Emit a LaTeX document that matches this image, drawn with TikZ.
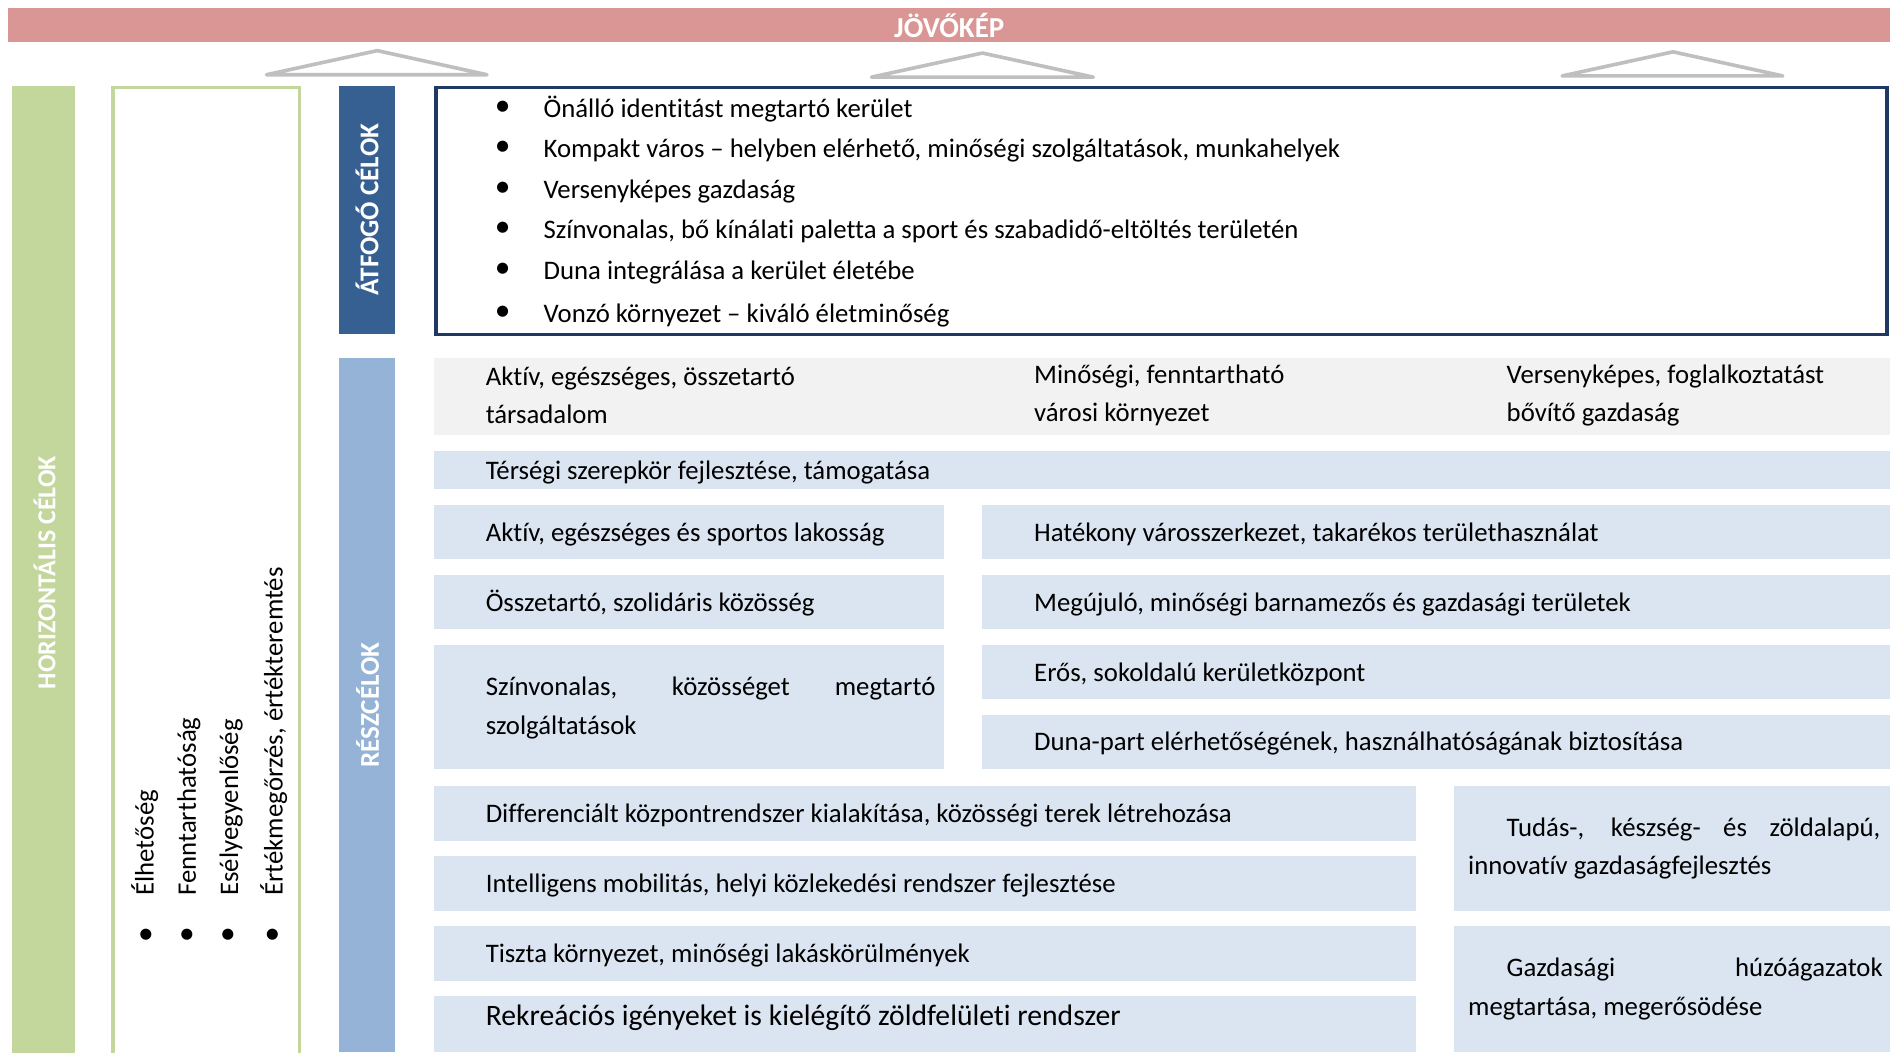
\documentclass[tikz,border=0pt]{standalone}
\usepackage{fontspec}
\setmainfont{Carlito}[Ligatures=NoCommon]
\definecolor{jred}{HTML}{D99694}
\definecolor{hgreen}{HTML}{C3D69B}
\definecolor{dblue}{HTML}{376092}
\definecolor{mblue}{HTML}{95B3D7}
\definecolor{lblue}{HTML}{DBE5F1}
\definecolor{lgray}{HTML}{F2F2F2}
\definecolor{tgray}{HTML}{BFBFBF}
\definecolor{navyb}{HTML}{1F3864}
\begin{document}
\begin{tikzpicture}[x=1pt,y=-1pt,
  bx/.style={fill=lblue, draw=none, anchor=north west, inner sep=0, outer sep=0},
  bar/.style={draw=none, anchor=north west, inner sep=0, outer sep=0},
  tx/.style={anchor=west, inner sep=0, outer sep=0, font=\fontsize{22.2}{32}\selectfont, text height=19.5pt, text depth=4.5pt},
  tx2/.style={anchor=west, inner sep=0, outer sep=0, font=\fontsize{22.2}{32}\selectfont, align=left},
  bul/.style={inner sep=0, outer sep=0, font=\fontsize{26}{26}\selectfont},
  hdr/.style={text=white, font=\fontsize{22.5}{22.5}\selectfont\bfseries, inner sep=0},
  tri/.style={draw=tgray, fill=white, line width=3pt, line join=round, line cap=round}
]
\useasboundingbox (0,0) rectangle (1568,873);

% top bar
\node[bar, fill=jred, minimum width=1561pt, minimum height=28pt] (jov) at (7,7) {};
\node[hdr, font=\fontsize{24}{24}\selectfont\bfseries] (jovt) at (jov.center) {JÖVŐKÉP};

% triangles
\draw[tri] (221,62) -- (313,42) -- (404,62) -- cycle;
\draw[tri] (723,64) -- (815,44) -- (907,64) -- cycle;
\draw[tri] (1296,63) -- (1388,43) -- (1479,63) -- cycle;

% horizontal goals bar
\node[bar, fill=hgreen, minimum width=52pt, minimum height=810pt] (hor) at (10,71) {};
\node[text=white, font=\fontsize{21.5}{21.5}\selectfont\bfseries, inner sep=0, rotate=90] (hort) at (37,475) {HORIZONTÁLIS CÉLOK};

% green outline box
\node[bar, draw=hgreen, line width=3pt, minimum width=155pt, minimum height=820pt] (hbox) at (93.5,72.5) {};
\node[bul] (hb1) at (121,777) {•};
\node[bul] (hb2) at (155,777) {•};
\node[bul] (hb3) at (189,777) {•};
\node[bul] (hb4) at (226,777) {•};
\node[tx, rotate=90] (ht1) at (120,743) {Élhetőség};
\node[tx, rotate=90] (ht2) at (155,743) {Fenntarthatóság};
\node[tx, rotate=90] (ht3) at (190,743) {Esélyegyenlőség};
\node[tx, rotate=90] (ht4) at (227,743) {Értékmegőrzés, értékteremtés};

% ÁTFOGÓ CÉLOK
\node[bar, fill=dblue, minimum width=47pt, minimum height=206pt] (atf) at (281,71) {};
\node[hdr, rotate=90] (atft) at (atf.center) {ÁTFOGÓ CÉLOK};

\node[bar, draw=navyb, line width=3pt, minimum width=1204pt, minimum height=205pt] (list) at (361.5,72.5) {};
\foreach \yy/\nm/\t in {90/l1/{Önálló identitást megtartó kerület},
  123/l2/{Kompakt város – helyben elérhető, minőségi szolgáltatások, munkahelyek},
  157/l3/{Versenyképes gazdaság},
  190/l4/{Színvonalas, bő kínálati paletta a sport és szabadidő-eltöltés területén},
  224/l5/{Duna integrálása a kerület életébe},
  260/l6/{Vonzó környezet – kiváló életminőség}}{
  \node[bul] (\nm b) at (417,\yy) {•};
  \node[tx] (\nm) at (451,\yy) {\t};
}

% RÉSZCÉLOK
\node[bar, fill=mblue, minimum width=47pt, minimum height=576pt] (resz) at (281,297) {};
\node[hdr, rotate=90] (reszt) at (305,585) {RÉSZCÉLOK};

% gray row
\node[bar, fill=lgray, minimum width=1208pt, minimum height=64pt] (gray) at (360,297) {};
\node[tx2] (g1) at (403,328) {Aktív, egészséges, összetartó\\társadalom};
\node[tx2] (g2) at (858,328) {Minőségi, fenntartható\\városi környezet};
\node[tx2] (g3) at (1250,328) {Versenyképes, foglalkoztatást\\bővítő gazdaság};

% boxes
\node[bx, minimum width=1208pt, minimum height=32pt] (bter) at (360,374) {};
\node[tx] (tter) at ([xshift=43pt]bter.west) {Térségi szerepkör fejlesztése, támogatása};

\node[bx, minimum width=423pt, minimum height=45pt] (bakt) at (360,419) {};
\node[tx] (takt) at ([xshift=43pt]bakt.west) {Aktív, egészséges és sportos lakosság};
\node[bx, minimum width=753pt, minimum height=45pt] (bhat) at (815,419) {};
\node[tx] (that) at ([xshift=43pt]bhat.west) {Hatékony városszerkezet, takarékos területhasználat};

\node[bx, minimum width=423pt, minimum height=45pt] (bosz) at (360,477) {};
\node[tx] (tosz) at ([xshift=43pt]bosz.west) {Összetartó, szolidáris közösség};
\node[bx, minimum width=753pt, minimum height=45pt] (bmeg) at (815,477) {};
\node[tx] (tmeg) at ([xshift=43pt]bmeg.west) {Megújuló, minőségi barnamezős és gazdasági területek};

\node[bx, minimum width=423pt, minimum height=103pt] (bszi) at (360,535) {};
\node[tx2] (tszi) at ([xshift=43pt, yshift=-1pt]bszi.west) {\makebox[373pt][s]{Színvonalas, közösséget megtartó}\\szolgáltatások};
\node[bx, minimum width=753pt, minimum height=45pt] (bero) at (815,535) {};
\node[tx] (tero) at ([xshift=43pt]bero.west) {Erős, sokoldalú kerületközpont};
\node[bx, minimum width=753pt, minimum height=45pt] (bdun) at (815,593) {};
\node[tx] (tdun) at ([xshift=43pt]bdun.west) {Duna-part elérhetőségének, használhatóságának biztosítása};

\node[bx, minimum width=815pt, minimum height=46pt] (bdif) at (360,652) {};
\node[tx] (tdif) at ([xshift=43pt]bdif.west) {Differenciált központrendszer kialakítása, közösségi terek létrehozása};
\node[bx, minimum width=815pt, minimum height=46pt] (bint) at (360,710) {};
\node[tx] (tint) at ([xshift=43pt]bint.west) {Intelligens mobilitás, helyi közlekedési rendszer fejlesztése};
\node[bx, minimum width=815pt, minimum height=46pt] (btis) at (360,768) {};
\node[tx] (ttis) at ([xshift=43pt]btis.west) {Tiszta környezet, minőségi lakáskörülmények};
\node[bx, minimum width=815pt, minimum height=47pt] (brek) at (360,826) {};
\node[tx, font=\fontsize{24.6}{28}\selectfont] (trek) at (403,843) {Rekreációs igényeket is kielégítő zöldfelületi rendszer};

\node[bx, minimum width=362pt, minimum height=104pt] (btud) at (1206,652) {};
\node[tx2] (ttud) at ([xshift=12pt]btud.west) {\hspace*{32pt}\makebox[310pt][s]{Tudás-, készség- és zöldalapú,}\\innovatív gazdaságfejlesztés};
\node[bx, minimum width=362pt, minimum height=105pt] (bgaz) at (1206,768) {};
\node[tx2] (tgaz) at ([xshift=12pt]bgaz.west) {\hspace*{32pt}\makebox[312pt][s]{Gazdasági húzóágazatok}\\megtartása, megerősödése};
\end{tikzpicture}
\end{document}
